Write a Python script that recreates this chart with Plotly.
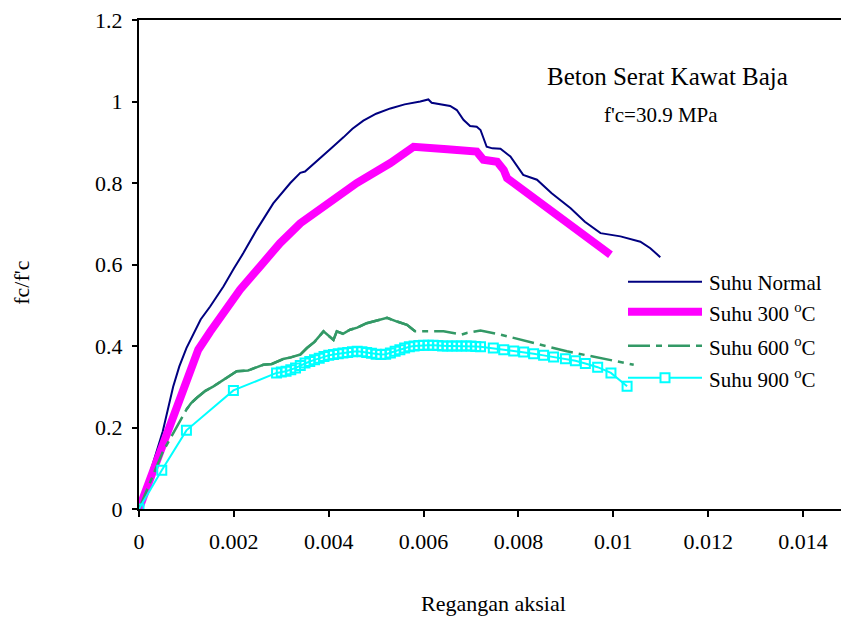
import plotly.graph_objects as go

# ---------------- data ----------------
normal_x = [0, 0.0002, 0.0005, 0.00072, 0.00085, 0.001, 0.00111, 0.0013, 0.0015, 0.00178,
            0.002, 0.0022, 0.00248, 0.00283, 0.00319, 0.0034, 0.0035, 0.00365, 0.00389,
            0.0041, 0.00431, 0.0045, 0.00473, 0.005, 0.0053, 0.0056, 0.00593, 0.0061,
            0.00617, 0.0064, 0.00656, 0.0067, 0.00684, 0.00698, 0.00712, 0.0072, 0.00733,
            0.00745, 0.00762, 0.00783, 0.0081, 0.00839, 0.0087, 0.0091, 0.0094, 0.00973,
            0.01015, 0.01057, 0.01078, 0.01099]
normal_y = [0, 0.075, 0.19, 0.30, 0.35, 0.395, 0.42, 0.465, 0.497, 0.546,
            0.59, 0.628, 0.685, 0.750, 0.800, 0.825, 0.828, 0.843, 0.867,
            0.89, 0.912, 0.933, 0.953, 0.97, 0.983, 0.993, 1.0, 1.005,
            0.997, 0.993, 0.989, 0.979, 0.955, 0.94, 0.938, 0.930, 0.889,
            0.885, 0.884, 0.865, 0.820, 0.808, 0.775, 0.738, 0.705, 0.677,
            0.669, 0.656, 0.640, 0.618]

s300_x = [0, 0.00125, 0.0015, 0.00178, 0.00213, 0.00255, 0.00297, 0.0034, 0.00389,
          0.00459, 0.0053, 0.00579, 0.0065, 0.00712, 0.00726, 0.00755, 0.00769, 0.00776,
          0.00994]
s300_y = [0, 0.391, 0.435, 0.481, 0.538, 0.595, 0.652, 0.701, 0.742,
          0.800, 0.849, 0.889, 0.883, 0.877, 0.857, 0.852, 0.832, 0.812,
          0.624]

s600_x = [0, 0.0005, 0.001, 0.0011, 0.00122, 0.0014, 0.00157, 0.0018, 0.00206, 0.0023,
          0.00262, 0.0028, 0.00304, 0.0032, 0.0034, 0.00354, 0.0037, 0.00389, 0.0041,
          0.00417, 0.0043, 0.00445, 0.0046, 0.0048, 0.005, 0.00523, 0.00544, 0.00565,
          0.00582, 0.00642, 0.0068, 0.00691, 0.0072, 0.00762, 0.00902, 0.01043]
s600_y = [0, 0.14, 0.244, 0.26, 0.273, 0.29, 0.301, 0.318, 0.338, 0.34,
          0.354, 0.356, 0.368, 0.372, 0.379, 0.395, 0.41, 0.436, 0.415,
          0.436, 0.43, 0.44, 0.445, 0.456, 0.462, 0.469, 0.460, 0.452,
          0.436, 0.436, 0.428, 0.432, 0.438, 0.428, 0.387, 0.354]
s600_dense_end = 29  # points up to here are densely sampled (drawn solid)

s900_x = [0, 0.00048, 0.001, 0.00199,
          0.0029, 0.003, 0.0031, 0.0032, 0.0033, 0.0034, 0.0035, 0.0036, 0.0037, 0.0038,
          0.0039, 0.004, 0.0041, 0.0042, 0.0043, 0.0044, 0.0045, 0.0046, 0.0047, 0.0048,
          0.0049, 0.005, 0.0051, 0.0052, 0.0053, 0.0054, 0.0055, 0.0056, 0.0057, 0.0058,
          0.0059, 0.006, 0.0061, 0.0062, 0.0063, 0.0064, 0.0065, 0.0066, 0.0067, 0.0068,
          0.0069, 0.007, 0.0071, 0.0072,
          0.00747, 0.00769, 0.0079, 0.00811, 0.00832, 0.00853, 0.00874, 0.00899, 0.0092,
          0.00941, 0.00967, 0.00995, 0.01029]
s900_y = [0, 0.095, 0.193, 0.291,
          0.334, 0.336, 0.338, 0.342, 0.346, 0.352, 0.358, 0.362, 0.366, 0.370,
          0.374, 0.377, 0.379, 0.381, 0.383, 0.384, 0.386, 0.387, 0.386, 0.384,
          0.382, 0.380, 0.379, 0.380, 0.383, 0.387, 0.391, 0.395, 0.398, 0.400,
          0.401, 0.402, 0.402, 0.402, 0.401, 0.400, 0.400, 0.400, 0.400, 0.400,
          0.400, 0.400, 0.399, 0.398,
          0.395, 0.391, 0.388, 0.385, 0.381, 0.377, 0.373, 0.369, 0.364,
          0.357, 0.348, 0.334, 0.301]

x_ticks = [0, 0.002, 0.004, 0.006, 0.008, 0.01, 0.012, 0.014]
x_tick_text = ["0", "0.002", "0.004", "0.006", "0.008", "0.01", "0.012", "0.014"]
y_ticks = [0, 0.2, 0.4, 0.6, 0.8, 1.0, 1.2]
y_tick_text = ["0", "0.2", "0.4", "0.6", "0.8", "1", "1.2"]

series_names = ["Suhu Normal", "Suhu 300 <sup>o</sup>C", "Suhu 600 <sup>o</sup>C", "Suhu 900 <sup>o</sup>C"]

C_NORMAL = "#000080"
C_300 = "#FF00FF"
C_600 = "#339966"
C_900 = "#00FFFF"
DASH_600 = "22px,6px,6px,6px"
FONT = "Liberation Serif"

# ---------------- figure ----------------
fig = go.Figure()
fig.add_trace(go.Scatter(x=normal_x, y=normal_y, mode="lines",
                         line=dict(color=C_NORMAL, width=2), name=series_names[0]))
fig.add_trace(go.Scatter(x=s300_x, y=s300_y, mode="lines",
                         line=dict(color=C_300, width=8), name=series_names[1]))
fig.add_trace(go.Scatter(x=s600_x, y=s600_y, mode="lines",
                         line=dict(color=C_600, width=2.5, dash=DASH_600), name=series_names[2]))
fig.add_trace(go.Scatter(x=s600_x[2:s600_dense_end], y=s600_y[2:s600_dense_end], mode="lines",
                         line=dict(color=C_600, width=2.5), showlegend=False, hoverinfo="skip"))
fig.add_trace(go.Scatter(x=s900_x, y=s900_y, mode="lines+markers",
                         line=dict(color=C_900, width=2),
                         marker=dict(symbol="square-open", size=9, color=C_900,
                                     line=dict(color=C_900, width=2)),
                         name=series_names[3]))

# ---- manual legend (long sample lines like the reference) ----
L, T, H = 139.0, 20.0, 489.5
W = 841.0 - L
def px(xp):
    return (xp - L) / W
def py(yp):
    return (T + H - yp) / H

leg_x0, leg_x1, leg_text_x = 628, 702, 707
leg_rows = [282, 312, 346, 378]
leg_styles = [dict(color=C_NORMAL, width=2), dict(color=C_300, width=8),
              dict(color=C_600, width=2.5, dash=DASH_600), dict(color=C_900, width=2)]
shapes = []
annotations = []
for name, yy, st in zip(series_names, leg_rows, leg_styles):
    shapes.append(dict(type="line", xref="paper", yref="paper",
                       x0=px(leg_x0), x1=px(leg_x1), y0=py(yy), y1=py(yy), line=st))
    annotations.append(dict(xref="paper", yref="paper", x=px(leg_text_x), y=py(yy + 1),
                            text=name, showarrow=False, xanchor="left", yanchor="middle",
                            font=dict(family=FONT, size=21, color="black")))
# marker on the 900 sample line
shapes.append(dict(type="rect", xref="paper", yref="paper",
                   x0=px(660.5), x1=px(669.5), y0=py(382.5), y1=py(373.5),
                   line=dict(color=C_900, width=2), fillcolor="white"))

annotations.append(dict(xref="paper", yref="paper", x=px(667), y=py(77),
                        text="Beton Serat Kawat Baja", showarrow=False,
                        xanchor="center", yanchor="middle",
                        font=dict(family=FONT, size=25, color="black")))
annotations.append(dict(xref="paper", yref="paper", x=px(661), y=py(115),
                        text="f'c=30.9 MPa", showarrow=False,
                        xanchor="center", yanchor="middle",
                        font=dict(family=FONT, size=21, color="black")))
annotations.append(dict(xref="paper", yref="paper", x=px(493), y=py(604),
                        text="Regangan aksial", showarrow=False,
                        xanchor="center", yanchor="middle",
                        font=dict(family=FONT, size=22, color="black")))
annotations.append(dict(xref="paper", yref="paper", x=px(22), y=py(283),
                        text="fc/f'c", showarrow=False, textangle=-90,
                        xanchor="center", yanchor="middle",
                        font=dict(family=FONT, size=22, color="black")))

fig.update_layout(
    width=841, height=619,
    margin=dict(l=139, r=0, t=20, b=110),
    paper_bgcolor="white", plot_bgcolor="white",
    showlegend=False,
    shapes=shapes, annotations=annotations,
    font=dict(family=FONT, size=21, color="black"),
)
fig.update_xaxes(range=[0, 0.0148], tickvals=x_ticks, ticktext=x_tick_text,
                 showgrid=False, zeroline=False, showline=True, linecolor="black",
                 linewidth=2, mirror=True, ticks="outside", ticklen=6, tickwidth=1.5,
                 tickcolor="black", tickfont=dict(family=FONT, size=22),
                 ticklabelstandoff=6)
fig.update_yaxes(range=[0, 1.2], tickvals=y_ticks, ticktext=y_tick_text,
                 showgrid=False, zeroline=False, showline=True, linecolor="black",
                 linewidth=2, ticks="outside", ticklen=5, tickwidth=1.5,
                 tickcolor="black", tickfont=dict(family=FONT, size=22),
                 ticklabelstandoff=5)

fig.write_html("out.html")
